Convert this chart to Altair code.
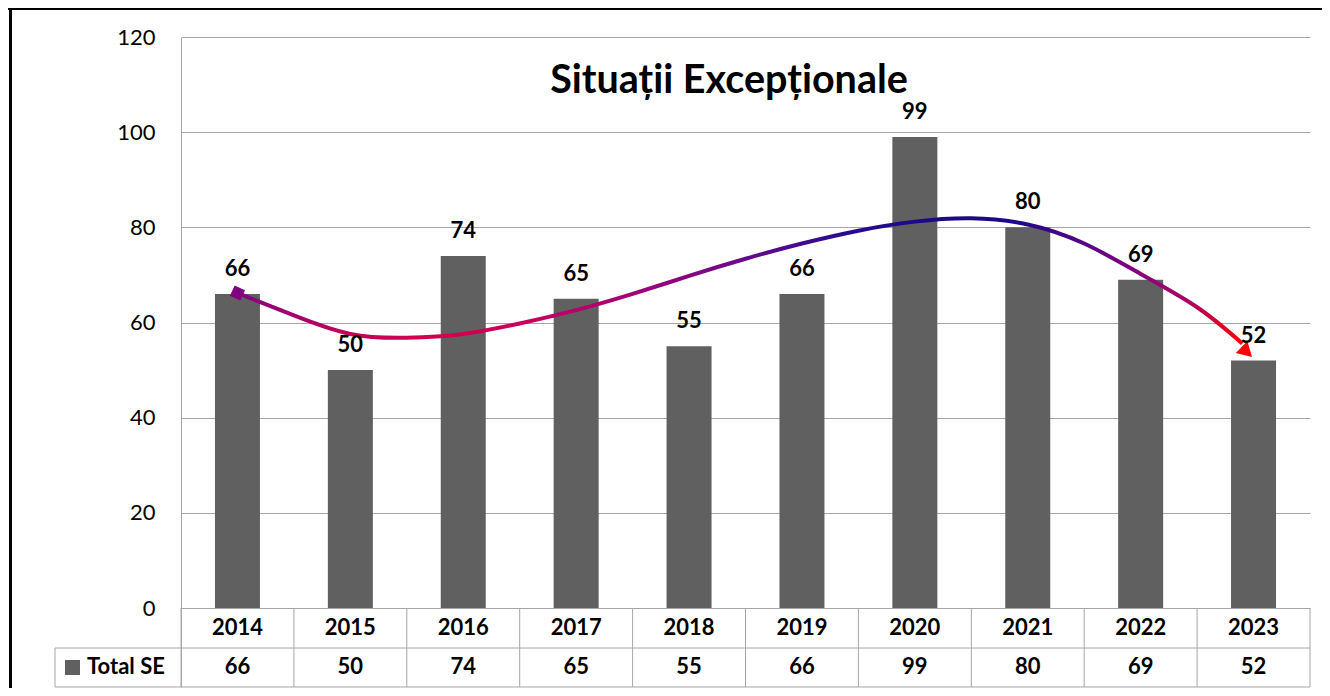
import altair as alt
import pandas as pd

# ---- data ----
years = ["2014", "2015", "2016", "2017", "2018", "2019", "2020", "2021", "2022", "2023"]
values = [66, 50, 74, 65, 55, 66, 99, 80, 69, 52]
series_name = "Total SE"
title_text = "Situații Excepționale"
y_ticks = [0, 20, 40, 60, 80, 100, 120]

# hand-drawn trend curve (category index, value)
trend_pos = [0.0, 0.5, 1.0, 1.5, 2.0, 2.5, 3.0, 3.5, 4.0, 4.5, 5.0, 5.5, 6.0, 6.5, 7.0, 7.5, 8.0, 8.5, 8.9]
trend_val = [66.2, 61.5, 57.6, 56.8, 57.6, 59.8, 62.6, 66.0, 69.8, 73.4, 76.6, 79.3, 81.2, 81.9, 80.6, 76.6, 70.2, 63.2, 55.6]
arrow_pos = [8.94]
arrow_val = [53.8]

# ---- layout constants ----
W, H = 1129, 650
Y_MIN = -16.6        # bottom of data table
ROW_SPLIT = -8.41    # line between header row and value row
HDR_Y = -4.2
VAL_Y = -12.5
FONT = "Lato"
GRID = "#a6a6a6"
BAR = "#606060"

df = pd.DataFrame({"pos": list(range(len(years))), "year": years, "value": values})
trend = pd.DataFrame({"pos": trend_pos, "val": trend_val})
arrow = pd.DataFrame({"pos": arrow_pos, "val": arrow_val})
bounds = pd.DataFrame({"b": [i - 0.5 for i in range(len(years) + 1)]})
hlines = pd.DataFrame({"h": [ROW_SPLIT, Y_MIN]})

xs = alt.Scale(domain=[-0.5, len(years) - 0.5], nice=False, zero=False, padding=0)
ys = alt.Scale(domain=[Y_MIN, 120], nice=False, zero=False, padding=0)

base = alt.Chart(df)

bars = base.mark_bar(size=45, color=BAR).encode(
    x=alt.X("pos:Q", scale=xs, axis=None),
    y=alt.Y("value:Q", scale=ys, title=None,
            axis=alt.Axis(values=y_ticks, grid=True, gridColor=GRID, gridWidth=1,
                          domainColor=GRID, domainWidth=1, ticks=False,
                          labelPadding=26, labelFontSize=22, labelFont=FONT,
                          labelColor="black")),
    y2=alt.datum(0),
)

labels = base.mark_text(font=FONT, fontSize=22, fontWeight="bold", color="black",
                        baseline="alphabetic", dy=-18).encode(
    x=alt.X("pos:Q", scale=xs), y=alt.Y("value:Q", scale=ys), text="value:Q")

grad = alt.Gradient(
    gradient="linear", x1=0, x2=1, y1=0, y2=0,
    stops=[
        alt.GradientStop(offset=0.0, color="#800080"),
        alt.GradientStop(offset=0.1, color="#c0005c"),
        alt.GradientStop(offset=0.2, color="#d4004c"),
        alt.GradientStop(offset=0.3, color="#c4005e"),
        alt.GradientStop(offset=0.4, color="#a00078"),
        alt.GradientStop(offset=0.5, color="#6a0a8c"),
        alt.GradientStop(offset=0.6, color="#2c0a8e"),
        alt.GradientStop(offset=0.68, color="#1a0a86"),
        alt.GradientStop(offset=0.78, color="#200888"),
        alt.GradientStop(offset=0.89, color="#800080"),
        alt.GradientStop(offset=0.95, color="#b00060"),
        alt.GradientStop(offset=1.0, color="#ff0000"),
    ],
)

curve = alt.Chart(trend).mark_line(stroke=grad, strokeWidth=4, interpolate="natural").encode(
    x=alt.X("pos:Q", scale=xs), y=alt.Y("val:Q", scale=ys))

start_mark = alt.Chart(trend.head(1)).mark_point(shape="square", filled=True, color="#800080",
                                                 size=130, angle=25, opacity=1).encode(
    x=alt.X("pos:Q", scale=xs), y=alt.Y("val:Q", scale=ys))

arrow_head = alt.Chart(arrow).mark_point(shape="triangle-right", filled=True, color="#ff0000",
                                         size=280, angle=44, opacity=1).encode(
    x=alt.X("pos:Q", scale=xs), y=alt.Y("val:Q", scale=ys))

title = alt.Chart(pd.DataFrame({"t": [title_text]})).mark_text(
    font=FONT, fontSize=39.5, fontWeight="bold", color="black", align="center", baseline="middle"
).encode(x=alt.value(548), y=alt.value(44), text="t:N")

# ---- data table ----
hdr_text = base.mark_text(font=FONT, fontSize=22, fontWeight="bold", color="black",
                          baseline="middle").encode(
    x=alt.X("pos:Q", scale=xs), y=alt.datum(HDR_Y, scale=ys), text="year:N")
val_text = base.mark_text(font=FONT, fontSize=22, fontWeight="bold", color="black",
                          baseline="middle").encode(
    x=alt.X("pos:Q", scale=xs), y=alt.datum(VAL_Y, scale=ys), text="value:Q")

vlines = alt.Chart(bounds).mark_rule(color=GRID, strokeWidth=1).encode(
    x=alt.X("b:Q", scale=xs), y=alt.datum(0, scale=ys), y2=alt.datum(Y_MIN))
hrules = alt.Chart(hlines).mark_rule(color=GRID, strokeWidth=1).encode(
    x=alt.value(-126), x2=alt.value(W), y=alt.Y("h:Q", scale=ys))
left_rule = alt.Chart(pd.DataFrame({"a": [0]})).mark_rule(color=GRID, strokeWidth=1).encode(
    x=alt.value(-126), y=alt.datum(ROW_SPLIT, scale=ys), y2=alt.datum(Y_MIN))
legend_sq = alt.Chart(pd.DataFrame({"a": [0]})).mark_square(size=225, color=BAR, opacity=1).encode(
    x=alt.value(-108.5), y=alt.datum(VAL_Y, scale=ys))
legend_txt = alt.Chart(pd.DataFrame({"t": [series_name]})).mark_text(
    font=FONT, fontSize=22, fontWeight="bold", color="black", align="left", baseline="middle"
).encode(x=alt.value(-94), y=alt.datum(VAL_Y, scale=ys), text="t:N")

# ---- outer frame (top and left edges) ----
frame_top = alt.Chart(pd.DataFrame({"a": [0]})).mark_rule(color="black", strokeWidth=3).encode(
    x=alt.value(-173), x2=alt.value(W + 12), y=alt.value(-28.5))
frame_left = alt.Chart(pd.DataFrame({"a": [0]})).mark_rule(color="black", strokeWidth=3).encode(
    x=alt.value(-170.5), y=alt.value(-30), y2=alt.value(H + 1))

chart = alt.layer(
    bars, vlines, hrules, left_rule, curve, start_mark, arrow_head, labels, title,
    hdr_text, val_text, legend_sq, legend_txt, frame_top, frame_left
).properties(
    width=W, height=H,
    autosize=alt.AutoSizeParams(type="none"),
    padding={"left": 173, "top": 29, "right": 12, "bottom": 1},
).configure_view(stroke=None)

chart.save("out.html", embed_options={"renderer": "svg", "actions": False})
